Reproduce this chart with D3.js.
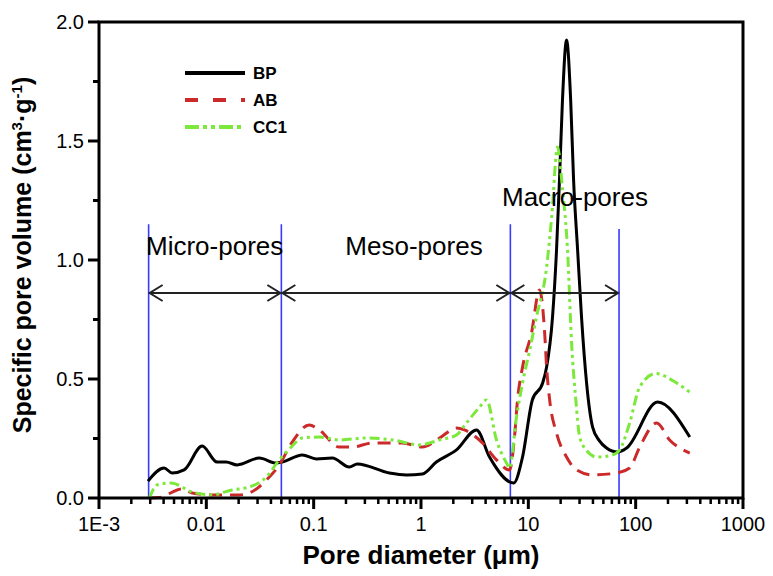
<!DOCTYPE html>
<html>
<head>
<meta charset="utf-8">
<script src="https://d3js.org/d3.v7.min.js"></script>
<style>
  body { margin: 0; background: #fff; }
  svg { font-family: "Liberation Sans", Arial, sans-serif; }
</style>
</head>
<body>
<svg id="chart"></svg>
<script>
var bp = [
  [0.00286, 0.071], [0.00404, 0.126], [0.0048, 0.105], [0.00621, 0.118], [0.00914, 0.218],
  [0.0126, 0.151], [0.0153, 0.151], [0.0194, 0.139], [0.0311, 0.168], [0.0448, 0.147],
  [0.0509, 0.151], [0.0783, 0.181], [0.106, 0.164], [0.149, 0.168], [0.215, 0.130],
  [0.255, 0.143], [0.507, 0.105], [0.731, 0.097], [1.03, 0.101], [1.39, 0.151],
  [2.14, 0.202], [3.29, 0.286], [4.35, 0.172], [7.3, 0.063], [8.83, 0.172],
  [10.9, 0.412], [13.6, 0.483], [14.8, 0.55], [16.8, 0.76], [18.3, 1.04],
  [19.5, 1.336], [20.8, 1.672], [22.7, 1.924], [24.8, 1.672], [26.4, 1.336],
  [28.8, 1.04], [31.3, 0.76], [34.9, 0.483], [39.7, 0.298], [46, 0.24],
  [53.6, 0.21], [67.9, 0.193], [82.4, 0.21], [160, 0.403], [319, 0.256]
];
var ab = [
  [0.0029, 0.0], [0.00363, 0.002], [0.00594, 0.038], [0.00738, 0.021], [0.0113, 0.013],
  [0.0202, 0.013], [0.0251, 0.021], [0.0386, 0.088], [0.0478, 0.139], [0.0631, 0.235],
  [0.091, 0.307], [0.113, 0.286], [0.173, 0.214], [0.229, 0.214], [0.352, 0.231],
  [0.671, 0.231], [1.03, 0.214], [1.49, 0.252], [2.14, 0.294], [2.54, 0.286],
  [3.74, 0.231], [5.05, 0.160], [6.68, 0.118], [7.43, 0.256], [7.93, 0.412],
  [8.83, 0.55], [10.7, 0.693], [12.7, 0.874], [14.2, 0.693], [14.8, 0.55],
  [15.8, 0.412], [18.3, 0.273], [22.7, 0.172], [28.2, 0.118], [39.7, 0.097],
  [66.5, 0.105], [87.9, 0.126], [109, 0.214], [157, 0.315], [207, 0.244], [319, 0.189]
];
var cc1 = [
  [0.00295, 0.0], [0.00348, 0.055], [0.0047, 0.063], [0.00738, 0.025], [0.0113, 0.013],
  [0.0174, 0.034], [0.0251, 0.046], [0.0362, 0.088], [0.0478, 0.160], [0.0618, 0.214],
  [0.0783, 0.252], [0.113, 0.256], [0.173, 0.244], [0.31, 0.252], [0.541, 0.244],
  [0.966, 0.223], [1.49, 0.244], [2.14, 0.265], [2.65, 0.315], [3.51, 0.382],
  [4.08, 0.412], [5.05, 0.244], [6.26, 0.147], [6.68, 0.126], [7.76, 0.34],
  [8.83, 0.483], [10.3, 0.622], [11.9, 0.76], [14.8, 0.97], [16.5, 1.18],
  [18.7, 1.475], [20.8, 1.30], [23.2, 1.04], [25.3, 0.65], [27.6, 0.42],
  [30.1, 0.256], [34.9, 0.20], [43.3, 0.172], [61, 0.181], [70.9, 0.202],
  [87.9, 0.315], [109, 0.466], [154, 0.523], [241, 0.483], [319, 0.445]
];

var seriesNames = ["BP", "AB", "CC1"];
var xTicks = [1e-3, 1e-2, 1e-1, 1, 10, 100, 1000];
var xTickLabels = ["1E-3", "0.01", "0.1", "1", "10", "100", "1000"];
var yTicks = [0, 0.5, 1.0, 1.5, 2.0];
var yMinorTicks = [0.25, 0.75, 1.25, 1.75];
var bounds = [0.0029, 0.05, 6.8, 70];        // region limits (um)
var regionNames = ["Micro-pores", "Meso-pores", "Macro-pores"];

var width = 773, height = 576;
var margin = {top: 22, right: 30, bottom: 78, left: 99};

var svg = d3.select("#chart").attr("width", width).attr("height", height);

var x = d3.scaleLog().domain([1e-3, 1e3]).range([margin.left, width - margin.right]);
var y = d3.scaleLinear().domain([0, 2]).range([height - margin.bottom, margin.top]);

var styles = [
  {color: "#000000", dash: null},
  {color: "#cc2a2a", dash: "13,8"},
  {color: "#7be83a", dash: "10,4,3,4,3,4"}
];

// blue region lines
svg.selectAll(".bound").data(bounds).enter().append("line")
  .attr("x1", function (d) { return x(d); })
  .attr("x2", function (d) { return x(d); })
  .attr("y1", function (d, i) { return i == 3 ? y(1.13) : y(1.15); })
  .attr("y2", y(0))
  .attr("stroke", "#3a3aff").attr("stroke-width", 1.6);

// curves
var line = d3.line()
  .x(function (d) { return x(d[0]); })
  .y(function (d) { return y(d[1]); })
  .curve(d3.curveMonotoneX);

[bp, ab, cc1].forEach(function (data, i) {
  svg.append("path")
    .datum(data)
    .attr("d", line)
    .attr("fill", "none")
    .attr("stroke", styles[i].color)
    .attr("stroke-width", 3)
    .attr("stroke-linejoin", "round")
    .attr("stroke-dasharray", styles[i].dash);
});

// double arrows
var arrowY = 293;
var head = function (px, dir) {
  return "M" + (px - dir * 13) + "," + (arrowY - 8) + "L" + px + "," + arrowY + "L" + (px - dir * 13) + "," + (arrowY + 8);
};
for (var i = 0; i < 3; i++) {
  var a = x(bounds[i]) + 1, b = x(bounds[i + 1]) - 1;
  svg.append("line").attr("x1", a).attr("x2", b).attr("y1", arrowY).attr("y2", arrowY)
    .attr("stroke", "#222").attr("stroke-width", 2);
  svg.append("path").attr("d", head(a, -1) + head(b, 1))
    .attr("fill", "none").attr("stroke", "#222").attr("stroke-width", 2);
}

// region labels
svg.append("text").attr("x", 146).attr("y", 255).attr("font-size", 26).text(regionNames[0]);
svg.append("text").attr("x", 414).attr("y", 255).attr("font-size", 26).attr("text-anchor", "middle").text(regionNames[1]);
svg.append("text").attr("x", 502).attr("y", 206).attr("font-size", 26).text(regionNames[2]);

// frame
var frame = "M" + x(1e-3) + "," + y(0) + "V" + y(2) + "H" + x(1e3) + "V" + y(0) + "Z";
svg.append("path").attr("d", frame).attr("fill", "none").attr("stroke", "#000").attr("stroke-width", 3);

// x axis ticks
var xMinor = [];
for (var e = -3; e < 3; e++) {
  for (var k = 2; k < 10; k++) xMinor.push(k * Math.pow(10, e));
}
svg.selectAll(".xminor").data(xMinor).enter().append("line")
  .attr("x1", function (d) { return x(d); }).attr("x2", function (d) { return x(d); })
  .attr("y1", y(0)).attr("y2", y(0) + 6)
  .attr("stroke", "#000").attr("stroke-width", 2.5);
svg.selectAll(".xmajor").data(xTicks).enter().append("line")
  .attr("x1", function (d) { return x(d); }).attr("x2", function (d) { return x(d); })
  .attr("y1", y(0)).attr("y2", y(0) + 11)
  .attr("stroke", "#000").attr("stroke-width", 3);
svg.selectAll(".xlab").data(xTicks).enter().append("text")
  .attr("x", function (d) { return x(d); })
  .attr("y", y(0) + 33)
  .attr("text-anchor", "middle").attr("font-size", 20)
  .text(function (d, i) { return xTickLabels[i]; });

// y axis ticks
svg.selectAll(".ymajor").data(yTicks).enter().append("line")
  .attr("x1", x(1e-3) - 11).attr("x2", x(1e-3))
  .attr("y1", function (d) { return y(d); }).attr("y2", function (d) { return y(d); })
  .attr("stroke", "#000").attr("stroke-width", 3);
svg.selectAll(".yminor").data(yMinorTicks).enter().append("line")
  .attr("x1", x(1e-3) - 6).attr("x2", x(1e-3))
  .attr("y1", function (d) { return y(d); }).attr("y2", function (d) { return y(d); })
  .attr("stroke", "#000").attr("stroke-width", 3);
svg.selectAll(".ylab").data(yTicks).enter().append("text")
  .attr("x", x(1e-3) - 15)
  .attr("y", function (d) { return y(d) + 7; })
  .attr("text-anchor", "end").attr("font-size", 20)
  .text(function (d) { return d.toFixed(1); });

// axis titles
svg.append("text")
  .attr("x", 421).attr("y", 564)
  .attr("text-anchor", "middle").attr("font-size", 26).attr("font-weight", "bold")
  .text("Pore diameter (μm)");

var yt = svg.append("text")
  .attr("transform", "translate(31,255) rotate(-90)")
  .attr("text-anchor", "middle").attr("font-size", 25).attr("font-weight", "bold");
yt.append("tspan").text("Specific pore volume (cm");
yt.append("tspan").attr("font-size", 15).attr("dy", -9).text("3");
yt.append("tspan").attr("font-size", 25).attr("dy", 9).text("·g");
yt.append("tspan").attr("font-size", 15).attr("dy", -9).text("-1");
yt.append("tspan").attr("font-size", 25).attr("dy", 9).text(")");

// legend
var legend = svg.selectAll(".legend").data(seriesNames).enter().append("g")
  .attr("transform", function (d, i) { return "translate(185," + (73 + i * 27) + ")"; });
legend.append("line")
  .attr("x1", 0).attr("x2", 60).attr("y1", 0).attr("y2", 0)
  .attr("stroke", function (d, i) { return styles[i].color; })
  .attr("stroke-width", 4)
  .attr("stroke-dasharray", function (d, i) { return i == 1 ? "13,15" : (i == 2 ? "14,4,4,4,4,4" : null); });
legend.append("text")
  .attr("x", 68).attr("y", 6)
  .attr("font-size", 17).attr("font-weight", "bold")
  .text(function (d) { return d; });
</script>
</body>
</html>
